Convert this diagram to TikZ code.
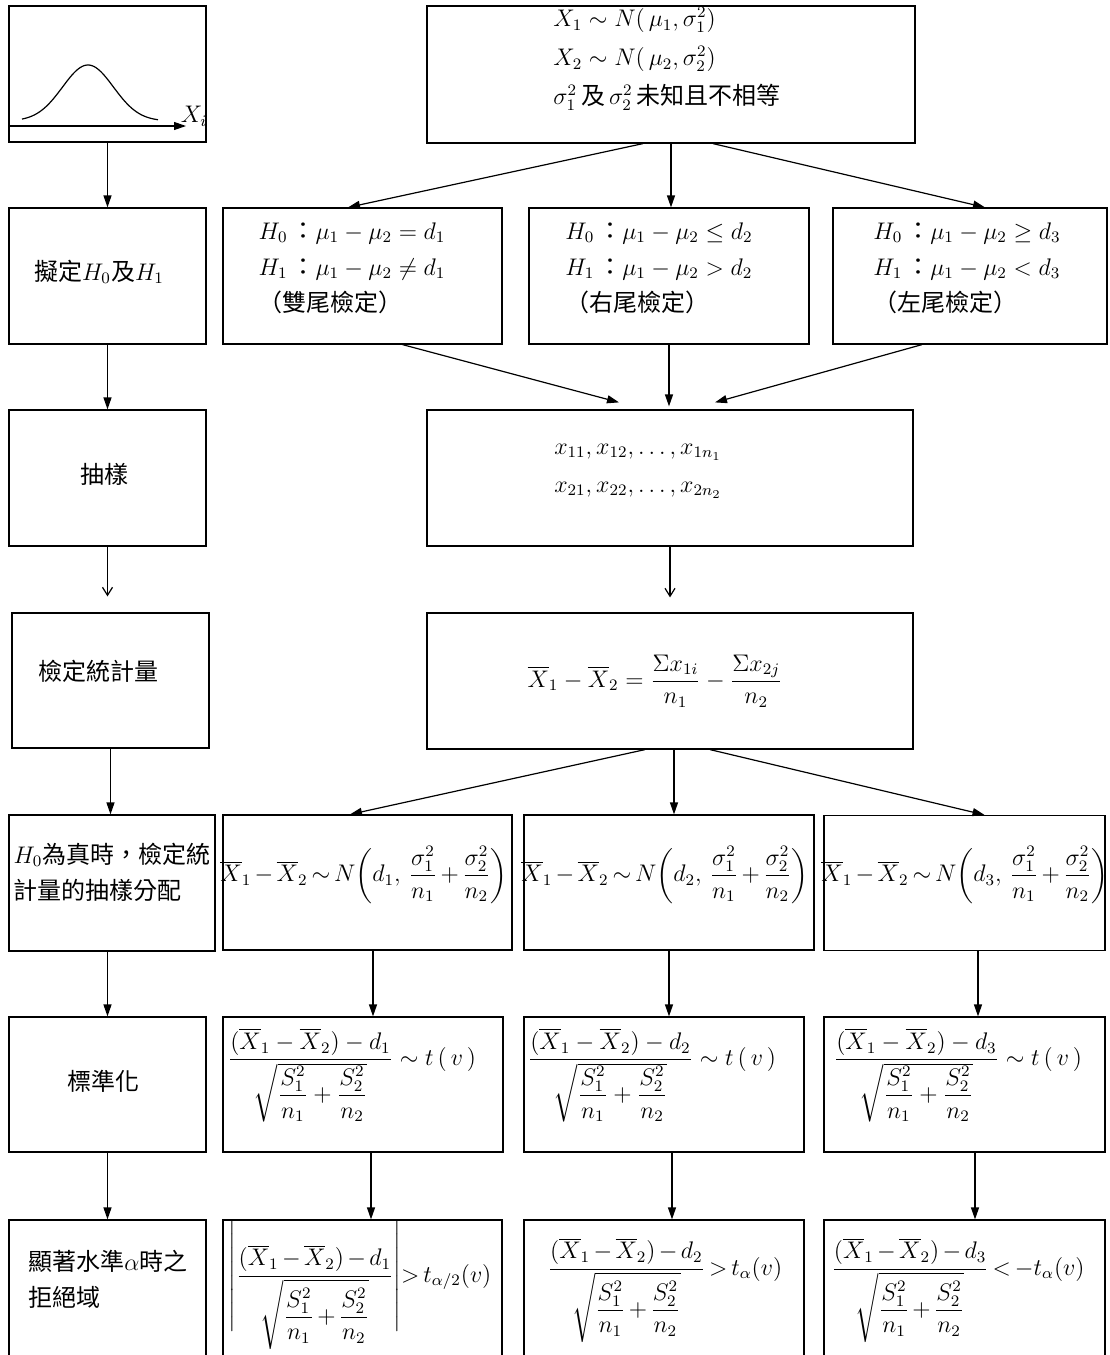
\documentclass[tikz,border=0pt]{standalone}
\usepackage{amsmath,amssymb}
\usepackage{fontspec}
\newfontfamily\cjk{Noto Sans CJK TC}
\usetikzlibrary{arrows.meta}

\begin{document}
\begin{tikzpicture}[
    x=0.5pt, y=-0.5pt,
    box/.style={rectangle, draw, line width=0.6pt, minimum height=68pt, inner sep=0pt},
    txt/.style={inner sep=0pt, node font={\cjk\fontsize{12}{18}\selectfont}},
    tight/.style={node font={\cjk\fontsize{11.5}{17}\selectfont},
        execute at begin node={\medmuskip=2.5mu\thickmuskip=3mu}},
    arr/.style={-{Triangle[length=6pt,width=4pt]}, line width=0.6pt},
    open arr/.style={-{Straight Barb[length=4pt,width=5pt]}, line width=0.6pt}]

    \useasboundingbox (0,0) rectangle (1109,1355);

    % left column
    \node[box, minimum width=98.5pt] (curve) at (107.5,74) {};
    \node[box, minimum width=98.5pt] (hypo) at (107.5,276) {};
    \node[box, minimum width=98.5pt] (samp) at (107.5,478) {};
    \node[box, minimum width=98.5pt, minimum height=67.5pt] (statl) at (110.5,680.5) {};
    \node[box, minimum width=103pt] (distl) at (112,883) {};
    \node[box, minimum width=98.5pt, minimum height=67.5pt] (stdl) at (107.5,1084.5) {};
    \node[box, minimum width=98.5pt] (rejl) at (107.5,1288) {};

    \draw[line width=0.6pt] plot[domain=22:158, samples=80, smooth]
        (\x, {121-56*exp(-((\x-88)/36)*((\x-88)/36))});
    \coordinate (axisend) at (186,126);
    \draw[arr] (curve.west |- axisend) -- (axisend);
    \node[txt] (xi) at (194,116) {$X_i$};

    \node[txt] (hypoT) at (99,272) {擬定$H_0$及$H_1$};
    \node[txt] (sampT) at (104,474) {抽樣};
    \node[txt] (statlT) at (99,671) {檢定統計量};
    \node[txt, align=left] (distlT) at (112,872) {$H_0$為真時，檢定統\\計量的抽樣分配};
    \node[txt] (stdlT) at (104,1081) {標準化};
    \node[txt, align=left] (rejlT) at (108,1279) {顯著水準$\alpha$時之\\拒絕域};

    % right part
    \node[box, minimum width=244pt, minimum height=68.5pt] (spec) at (671,74.5) {};
    \node[box, minimum width=139.5pt] (hypA) at (362.5,276) {};
    \node[box, minimum width=140pt] (hypB) at (669,276) {};
    \node[box, minimum width=137pt] (hypC) at (970,276) {};
    \node[box, minimum width=243pt] (sample) at (670,478) {};
    \node[box, minimum width=243pt] (statistic) at (670,681) {};
    \node[box, minimum width=144.5pt, minimum height=67.5pt] (distA) at (367.5,882.5) {};
    \node[box, minimum width=145pt, minimum height=67.5pt] (distB) at (669,882.5) {};
    \node[box, minimum width=140.5pt, minimum height=67.5pt] (distC) at (964.5,883) {};
    \node[box, minimum width=140pt, minimum height=67.5pt] (stdA) at (363,1084.5) {};
    \node[box, minimum width=140pt, minimum height=67.5pt] (stdB) at (664,1084.5) {};
    \node[box, minimum width=140.5pt, minimum height=67.5pt] (stdC) at (964.5,1084.5) {};
    \node[box, minimum width=139.5pt] (rejA) at (362.5,1288) {};
    \node[box, minimum width=140pt] (rejB) at (664,1288) {};
    \node[box, minimum width=140.5pt] (rejC) at (964.5,1288) {};

    \node[txt, align=left, node font={\cjk\fontsize{12}{19.5}\selectfont}] (specT) at (667,59)
        {$X_1\sim N(\,\mu_1,\sigma_1^2)$\\$X_2\sim N(\,\mu_2,\sigma_2^2)$\\$\sigma_1^2$\,及\,$\sigma_2^2$\,未知且不相等};
    \node[txt, align=left] (hypAT) at (352,268)
        {$H_0$\,：$\mu_1-\mu_2=d_1$\\$H_1$\,：$\mu_1-\mu_2\neq d_1$\\（雙尾檢定）};
    \node[txt, align=left] (hypBT) at (659,268)
        {$H_0$\,：$\mu_1-\mu_2\le d_2$\\$H_1$\,：$\mu_1-\mu_2>d_2$\\（右尾檢定）};
    \node[txt, align=left] (hypCT) at (967,268)
        {$H_0$\,：$\mu_1-\mu_2\ge d_3$\\$H_1$\,：$\mu_1-\mu_2<d_3$\\（左尾檢定）};
    \node[txt, align=left, node font={\cjk\fontsize{12}{19}\selectfont}] (sampleT) at (638,471)
        {$x_{11},x_{12},\ldots,x_{1n_1}$\\$x_{21},x_{22},\ldots,x_{2n_2}$};
    \node[txt] (statisticT) at (655,681)
        {$\overline{X}_1-\overline{X}_2=\dfrac{\Sigma x_{1i}}{n_1}-\dfrac{\Sigma x_{2j}}{n_2}$};
    \node[txt, tight] (distAT) at (364,875)
        {$\overline{X}_1-\overline{X}_2\sim N\!\left(d_1,\,\dfrac{\sigma_1^2}{n_1}+\dfrac{\sigma_2^2}{n_2}\right)$};
    \node[txt, tight] (distBT) at (665,875)
        {$\overline{X}_1-\overline{X}_2\sim N\!\left(d_2,\,\dfrac{\sigma_1^2}{n_1}+\dfrac{\sigma_2^2}{n_2}\right)$};
    \node[txt, tight] (distCT) at (965,875)
        {$\overline{X}_1-\overline{X}_2\sim N\!\left(d_3,\,\dfrac{\sigma_1^2}{n_1}+\dfrac{\sigma_2^2}{n_2}\right)$};
    \node[txt] (stdAT) at (352,1075)
        {$\dfrac{(\overline{X}_1-\overline{X}_2)-d_1}{\sqrt{\dfrac{S_1^2}{n_1}+\dfrac{S_2^2}{n_2}}}\sim t\,(\,v\,)$};
    \node[txt] (stdBT) at (652,1075)
        {$\dfrac{(\overline{X}_1-\overline{X}_2)-d_2}{\sqrt{\dfrac{S_1^2}{n_1}+\dfrac{S_2^2}{n_2}}}\sim t\,(\,v\,)$};
    \node[txt] (stdCT) at (958,1075)
        {$\dfrac{(\overline{X}_1-\overline{X}_2)-d_3}{\sqrt{\dfrac{S_1^2}{n_1}+\dfrac{S_2^2}{n_2}}}\sim t\,(\,v\,)$};
    \node[txt, tight, execute at begin node={\medmuskip=2.5mu\thickmuskip=3mu\delimiterfactor=700\delimitershortfall=40pt}]
        (rejAT) at (360,1285)
        {$\left|\dfrac{(\overline{X}_1-\overline{X}_2)-d_1}{\sqrt{\dfrac{S_1^2}{n_1}+\dfrac{S_2^2}{n_2}}}\right|\!>t_{\alpha/2}(v)$};
    \node[txt, tight] (rejBT) at (665,1290)
        {$\dfrac{(\overline{X}_1-\overline{X}_2)-d_2}{\sqrt{\dfrac{S_1^2}{n_1}+\dfrac{S_2^2}{n_2}}}>t_{\alpha}(v)$};
    \node[txt, tight] (rejCT) at (958,1290)
        {$\dfrac{(\overline{X}_1-\overline{X}_2)-d_3}{\sqrt{\dfrac{S_1^2}{n_1}+\dfrac{S_2^2}{n_2}}}<-t_{\alpha}(v)$};

    % left arrows
    \draw[arr] (curve) -- (hypo);
    \draw[arr] (hypo) -- (samp);
    \draw[open arr, shorten >=8pt] (samp.south) -- (samp.south |- statl.north);
    \draw[arr] (statl.south) -- (statl.south |- distl.north);
    \draw[arr] (stdl.north |- distl.south) -- (stdl.north);
    \draw[arr] (stdl) -- (rejl);

    % right arrows
    \draw[arr] ([xshift=-14pt]spec.south) -- ([xshift=-7.25pt]hypA.north);
    \draw[arr] (spec.south) -- (spec.south |- hypB.north);
    \draw[arr] ([xshift=21pt]spec.south) -- ([xshift=7.5pt]hypC.north);
    \draw[arr] ([xshift=20pt]hypA.south) -- ([shift={(-25.5pt,3.5pt)}]sample.north);
    \draw[arr, shorten >=1.5pt] (hypB.south) -- (hypB.south |- sample.north);
    \draw[arr] ([xshift=-24pt]hypC.south) -- ([shift={(22.5pt,3.5pt)}]sample.north);
    \draw[open arr, shorten >=7.5pt] (sample) -- (statistic);
    \draw[arr] ([xshift=-12.5pt]statistic.south) -- ([xshift=-8.75pt]distA.north);
    \draw[arr] ([xshift=2pt]statistic.south) -- ([xshift=2.5pt]distB.north);
    \draw[arr] ([xshift=20pt]statistic.south) -- ([xshift=10pt]distC.north);
    \draw[arr] ([xshift=2.75pt]distA.south) -- ([xshift=5pt]stdA.north);
    \draw[arr] (distB.south) -- ([xshift=2.5pt]stdB.north);
    \draw[arr] ([xshift=6.75pt]distC.south) -- ([xshift=6.75pt]stdC.north);
    \draw[arr] ([xshift=4pt]stdA.south) -- ([xshift=4.25pt]rejA.north);
    \draw[arr] ([xshift=4pt]stdB.south) -- ([xshift=4pt]rejB.north);
    \draw[arr] ([xshift=5.25pt]stdC.south) -- ([xshift=5.25pt]rejC.north);
\end{tikzpicture}
\end{document}
